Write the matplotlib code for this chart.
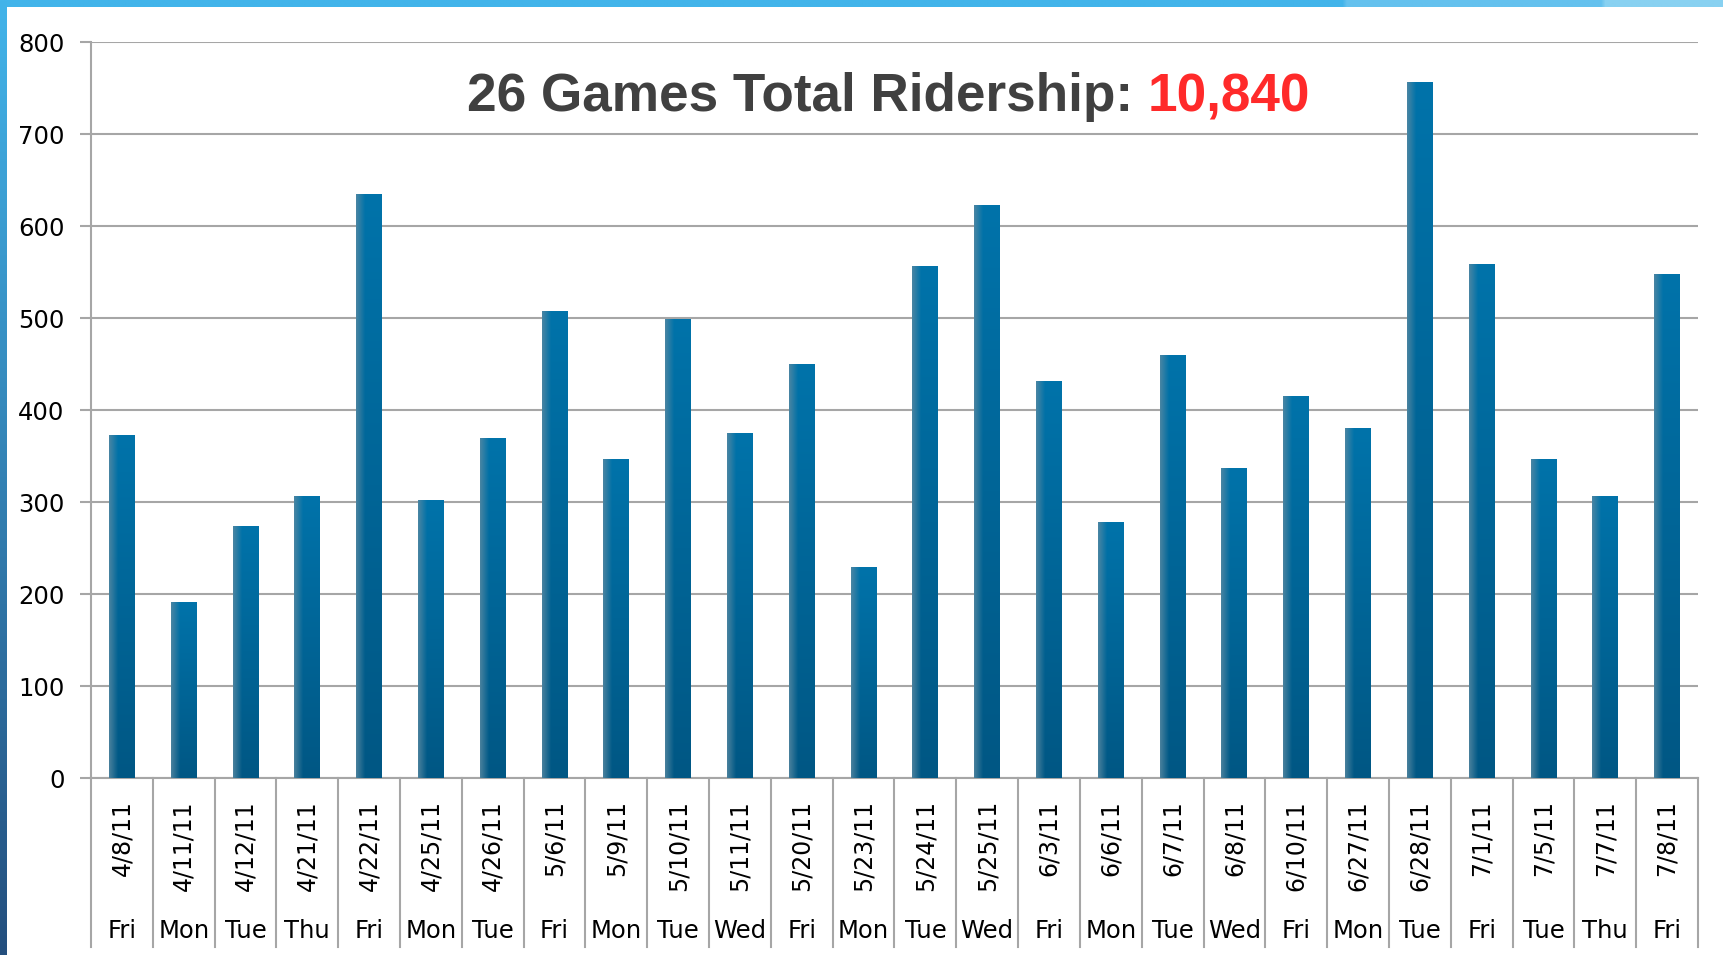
"""26 games ridership bar chart, PowerPoint style."""
import matplotlib
matplotlib.use('Agg')
import matplotlib.pyplot as plt
import matplotlib.transforms as mtransforms
import numpy as np
from matplotlib.colors import to_rgb

dates = ['4/8/11', '4/11/11', '4/12/11', '4/21/11', '4/22/11', '4/25/11',
         '4/26/11', '5/6/11', '5/9/11', '5/10/11', '5/11/11', '5/20/11',
         '5/23/11', '5/24/11', '5/25/11', '6/3/11', '6/6/11', '6/7/11',
         '6/8/11', '6/10/11', '6/27/11', '6/28/11', '7/1/11', '7/5/11',
         '7/7/11', '7/8/11']
days = ['Fri', 'Mon', 'Tue', 'Thu', 'Fri', 'Mon', 'Tue', 'Fri', 'Mon', 'Tue',
        'Wed', 'Fri', 'Mon', 'Tue', 'Wed', 'Fri', 'Mon', 'Tue', 'Wed', 'Fri',
        'Mon', 'Tue', 'Fri', 'Tue', 'Thu', 'Fri']
riders = [373, 191, 274, 306, 635, 302, 370, 508, 347, 499, 375, 450, 229,
          556, 623, 432, 278, 460, 337, 415, 380, 757, 559, 347, 306, 548]
yticks = [0, 100, 200, 300, 400, 500, 600, 700, 800]
title_main = '26 Games Total Ridership: '
title_total = '10,840'

W, H = 1724, 955
GRID = '#a6a6a6'

fig = plt.figure(figsize=(W / 100, H / 100), dpi=100)

# frame: light blue top band, blue gradient on the left
bg = fig.add_axes([0, 0, 1, 1], zorder=-5)
bg.set_xlim(0, W); bg.set_ylim(H, 0); bg.axis('off')
top = np.ones((1, 400, 3))
xs = np.linspace(0, 1, 400)
c1, c2, c3 = np.array(to_rgb('#42b4ea')), np.array(to_rgb('#64c1ee')), np.array(to_rgb('#88d1f1'))
for i, t in enumerate(xs):
    if t < 0.78:
        top[0, i] = c1
    elif t < 0.93:
        top[0, i] = c2
    else:
        top[0, i] = c3
bg.imshow(top, extent=[0, W, 7, 0], aspect='auto', interpolation='bilinear')
ys = np.linspace(0, 1, 300)[:, None, None]
left = (1 - ys) * np.array(to_rgb('#42b4ea')) + ys * np.array(to_rgb('#244f7e'))
bg.imshow(left, extent=[0, 7, H, 0], aspect='auto', interpolation='bilinear')

ax = fig.add_axes([91 / W, (H - 778) / H, (1698 - 91) / W, 736 / H])
x = np.arange(len(riders))
bars = ax.bar(x, riders, width=0.42, facecolor='none', edgecolor='none', zorder=3)

# per-bar gradient: darker toward the bottom, greyish highlight on the left
nx, ny = 40, 100
tx = np.linspace(0, 1, nx)
ty = np.linspace(0, 1, ny)[:, None, None]
base = (1 - ty) * np.array(to_rgb('#0073aa')) + ty * np.array(to_rgb('#005784'))
hl = np.clip(1 - tx / 0.35, 0, 1)[None, :, None] * 0.8
grad = (1 - hl) * base + hl * np.array(to_rgb('#5a8aa2'))
for b in bars:
    x0, w, h = b.get_x(), b.get_width(), b.get_height()
    im = ax.imshow(grad, extent=[x0, x0 + w, 0, h], aspect='auto',
                   interpolation='bilinear', zorder=3)
    im.set_clip_path(b)

ax.set_xlim(-0.5, len(riders) - 0.5)
ax.set_ylim(0, 800)
ax.set_yticks(yticks)
ax.tick_params(axis='y', length=8, width=1.5, color=GRID, pad=11,
               labelsize=17.5)
ax.set_xticks([])
ax.yaxis.grid(True, color=GRID, lw=1.5, zorder=0)
ax.set_axisbelow(True)
for s in ('top', 'right'):
    ax.spines[s].set_visible(False)
for s in ('left', 'bottom'):
    ax.spines[s].set_color(GRID)
    ax.spines[s].set_linewidth(1.5)

# category labels with separators
trans = mtransforms.blended_transform_factory(ax.transData, ax.transAxes)
for i in range(len(riders) + 1):
    ax.plot([i - 0.5, i - 0.5], [0, -0.2296], transform=trans, color=GRID,
            lw=1.5, clip_on=False)
for i, (d, wd) in enumerate(zip(dates, days)):
    ax.text(i, -0.03, d, transform=trans, rotation=90, ha='center', va='top',
            fontsize=17)
    ax.text(i, -0.2174, wd, transform=trans, ha='center', va='baseline',
            fontsize=17.5)

# title in two colours, fitted to the reference width
fam = ['Liberation Sans Narrow', 'Liberation Sans']
ty0 = (H - 111) / H
t1 = fig.text(467 / W, ty0, title_main, color='#404040', fontsize=42,
              fontweight='bold', family=fam, va='baseline')
t2 = fig.text(0, ty0, title_total, color='#ff2a2a', fontsize=42,
              fontweight='bold', family=fam, va='baseline')
r = fig.canvas.get_renderer()
w_all = t1.get_window_extent(r).width + t2.get_window_extent(r).width
k = 845 / w_all
t1.set_fontsize(42 * k); t2.set_fontsize(42 * k)
w1 = t1.get_window_extent(r).width
t2.set_x((467 + w1) / W)

fig.savefig('out.png', dpi=100)
